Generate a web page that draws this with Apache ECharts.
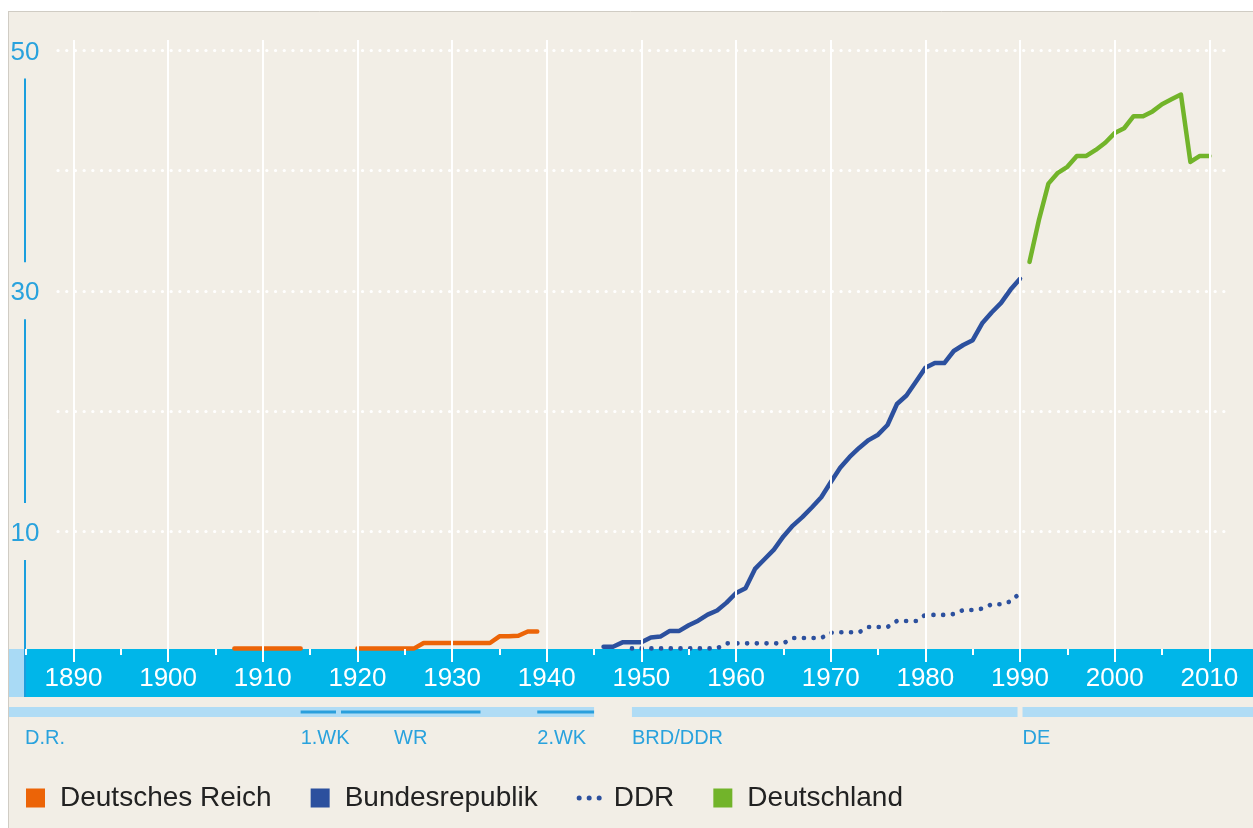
<!DOCTYPE html>
<html><head><meta charset="utf-8">
<script src="https://cdn.jsdelivr.net/npm/echarts@6/dist/echarts.min.js"></script>
<style>html,body{margin:0;padding:0;background:#fff}#c{width:1253px;height:828px}</style>
</head><body><div id="c"></div>
<script>
// ---------- DATA ----------
const reichYears  = [1907,1908,1909,1910,1911,1912,1913,1914,1915,1916,1917,1918,1919,1920,1921,1922,1923,1924,1925,1926,1927,1928,1929,1930,1931,1932,1933,1934,1935,1936,1937,1938,1939];
const reichValues = [0.3,0.3,0.3,0.3,0.3,0.3,0.3,0.3,null,null,null,null,null,0.3,0.3,0.3,0.3,0.3,0.3,0.3,0.75,0.75,0.75,0.75,0.75,0.75,0.75,0.75,1.3,1.3,1.35,1.7,1.7];

const brdYears  = [1946,1947,1948,1949,1950,1951,1952,1953,1954,1955,1956,1957,1958,1959,1960,1961,1962,1963,1964,1965,1966,1967,1968,1969,1970,1971,1972,1973,1974,1975,1976,1977,1978,1979,1980,1981,1982,1983,1984,1985,1986,1987,1988,1989,1990];
const brdValues = [0.44,0.44,0.8,0.8,0.8,1.2,1.28,1.75,1.75,2.22,2.6,3.1,3.45,4.1,4.9,5.3,6.9,7.7,8.5,9.6,10.5,11.2,12.0,12.85,14.1,15.3,16.2,16.95,17.6,18.05,18.85,20.6,21.3,22.45,23.6,24.0,24.0,25.0,25.5,25.9,27.3,28.2,29.0,30.1,31.0];

const ddrYears  = [1949,1950,1951,1952,1953,1954,1955,1956,1957,1958,1959,1960,1961,1962,1963,1964,1965,1966,1967,1968,1969,1970,1971,1972,1973,1974,1975,1976,1977,1978,1979,1980,1981,1982,1983,1984,1985,1986,1987,1988,1989,1990];
const ddrValues = [0.3,0.3,0.3,0.3,0.3,0.3,0.3,0.3,0.3,0.3,0.72,0.72,0.72,0.72,0.72,0.72,0.72,1.16,1.16,1.16,1.16,1.6,1.64,1.64,1.64,2.08,2.08,2.08,2.58,2.58,2.58,3.08,3.08,3.08,3.15,3.49,3.49,3.6,3.96,3.96,4.2,4.9];

const deYears  = [1991,1992,1993,1994,1995,1996,1997,1998,1999,2000,2001,2002,2003,2004,2005,2006,2007,2008,2009,2010];
const deValues = [32.4,35.9,38.9,39.8,40.3,41.2,41.2,41.7,42.3,43.1,43.5,44.5,44.5,44.9,45.5,45.9,46.3,40.7,41.2,41.2];

const seriesNames = ['Deutsches Reich','Bundesrepublik','DDR','Deutschland'];
const yTickLabels = [10, 30, 50];

const periodNames = ['D.R.', 'BRD/DDR', 'DE'];
const periodStart = [null, 1949, 1990];
const periodEnd   = [1945, 1990, null];
const eventNames  = ['1.WK', 'WR', '2.WK'];
const eventStart  = [1914, 1918, 1939];
const eventEnd    = [1918, 1933, 1945];

// ---------- LAYOUT / STYLE ----------
const W = 1253, H = 828;
const BG = '#f2eee6';
const FONT = '"Liberation Sans", Arial, Helvetica, sans-serif';
const LABEL_BLUE = '#29a2dd';
const BAND_CYAN = '#00b6e9';
const AXIS_X = 25;
const G0_LEFT = -21.2, G0_RIGHT_EDGE = 1304;   // grid for decade lines spans 1880..2020
const PX_PER_YEAR = (G0_RIGHT_EDGE - G0_LEFT) / 140;
const G1_LEFT = 58, G1_RIGHT_EDGE = 1228;
const X_MIN = 1880 + (G1_LEFT - G0_LEFT) / PX_PER_YEAR;
const X_MAX = 1880 + (G1_RIGHT_EDGE - G0_LEFT) / PX_PER_YEAR;
const BAND_TOP = 649, BAND_BOTTOM = 697;

const pairs = (xs, ys) => xs.map((x, i) => [x, ys[i] == null ? '-' : ys[i]]);

const chart = echarts.init(document.getElementById('c'), null, {renderer: 'canvas'});

const lineBase = {type: 'line', xAxisIndex: 1, yAxisIndex: 1, showSymbol: false, symbol: 'none', z: 4, connectNulls: false, animation: false};
const sq = 'path://M0,0h10v10h-10z';

const option = {
  animation: false,
  backgroundColor: BG,
  textStyle: {fontFamily: FONT},
  grid: [
    {left: G0_LEFT, right: W - G0_RIGHT_EDGE, top: 40, bottom: H - BAND_TOP, containLabel: false, outerBoundsMode: 'none'},
    {left: G1_LEFT, right: W - G1_RIGHT_EDGE, top: 50, bottom: 176, containLabel: false, outerBoundsMode: 'none'}
  ],
  xAxis: [
    {type: 'value', gridIndex: 0, min: 1880, max: 2020, interval: 10, z: 6,
     axisLine: {show: false},
     axisTick: {show: true, length: 13, lineStyle: {color: '#fff', width: 2}},
     minorTick: {show: true, splitNumber: 2, length: 6, lineStyle: {color: '#fff', width: 2}},
     splitLine: {show: true, lineStyle: {color: '#fff', width: 2}},
     axisLabel: {color: '#fff', fontSize: 26, margin: 17, fontFamily: FONT, formatter: v => String(v)}},
    {type: 'value', gridIndex: 1, min: X_MIN, max: X_MAX, show: false, splitLine: {show: false}}
  ],
  yAxis: [
    {type: 'value', gridIndex: 0, show: false, min: 0, max: 1, splitLine: {show: false}},
    {type: 'value', gridIndex: 1, min: 0, max: 50, interval: 10, offset: G1_LEFT - AXIS_X,
     axisLine: {show: true, lineStyle: {color: '#1b9fde', width: 2}},
     axisTick: {show: false},
     splitLine: {show: true, lineStyle: {color: '#ffffff', width: 3.2, type: [0.1, 8.6], cap: 'round'}},
     axisLabel: {margin: 0, align: 'center',
       formatter: v => yTickLabels.includes(v) ? '{a|' + v + '}' : '',
       rich: {a: {fontSize: 26, color: LABEL_BLUE, fontFamily: FONT, backgroundColor: BG, padding: [18, 3, 13, 3]}}}}
  ],
  legend: {
    left: 26, top: 784, padding: 0, itemWidth: 25, itemHeight: 19, itemGap: 39, symbolKeepAspect: true,
    textStyle: {fontSize: 28, color: '#222', fontFamily: FONT, padding: [0, 0, 0, 7]},
    selectedMode: false,
    data: [
      {name: seriesNames[0], icon: sq},
      {name: seriesNames[1], icon: sq},
      {name: seriesNames[2], icon: 'path://M0,2.5a2.5,2.5 0 1,0 5,0a2.5,2.5 0 1,0 -5,0M10,2.5a2.5,2.5 0 1,0 5,0a2.5,2.5 0 1,0 -5,0M20,2.5a2.5,2.5 0 1,0 5,0a2.5,2.5 0 1,0 -5,0'},
      {name: seriesNames[3], icon: sq}
    ]
  },
  series: [
    Object.assign({}, lineBase, {name: seriesNames[0], data: pairs(reichYears, reichValues), color: '#ec6407',
      lineStyle: {color: '#ec6407', width: 4.5, cap: 'round', join: 'round'}}),
    Object.assign({}, lineBase, {name: seriesNames[1], data: pairs(brdYears, brdValues), color: '#2c509e',
      lineStyle: {color: '#2c509e', width: 4.5, cap: 'round', join: 'round'}}),
    Object.assign({}, lineBase, {name: seriesNames[2], data: pairs(ddrYears, ddrValues), color: '#2c509e',
      lineStyle: {color: '#2c509e', width: 4.6, type: [0.1, 9.6], cap: 'round', join: 'round'}}),
    Object.assign({}, lineBase, {name: seriesNames[3], data: pairs(deYears, deValues), color: '#72b42a',
      lineStyle: {color: '#72b42a', width: 4.5, cap: 'round', join: 'round'}})
  ]
};
chart.setOption(option);

// ---------- decorations (frame, axis band, period bars) ----------
const px = yr => chart.convertToPixel({xAxisIndex: 1}, yr);
const gfx = [];
// axis band
gfx.push({type: 'rect', z: 3, silent: true, shape: {x: 8, y: BAND_TOP, width: AXIS_X - 8, height: BAND_BOTTOM - BAND_TOP}, style: {fill: '#a9daf5'}});
gfx.push({type: 'rect', z: 3, silent: true, shape: {x: AXIS_X, y: BAND_TOP, width: W - AXIS_X, height: BAND_BOTTOM - BAND_TOP}, style: {fill: BAND_CYAN}});
gfx.push({type: 'line', z: 3, silent: true, shape: {x1: AXIS_X, y1: BAND_TOP - 4, x2: AXIS_X, y2: BAND_BOTTOM}, style: {stroke: '#1b9fde', lineWidth: 2}});
// period bars
const PB_TOP = 707, PB_H = 10, LABEL_Y = 738;
periodNames.forEach((name, i) => {
  const x0 = periodStart[i] == null ? 8 : px(periodStart[i]) + (i > 0 && periodEnd[i - 1] === periodStart[i] ? 2.5 : 0);
  const x1 = periodEnd[i] == null ? W : px(periodEnd[i]) - (periodStart[i + 1] === periodEnd[i] ? 2.5 : 0);
  gfx.push({type: 'rect', z: 3, silent: true, shape: {x: x0, y: PB_TOP, width: x1 - x0, height: PB_H}, style: {fill: '#b0dcf5'}});
  gfx.push({type: 'text', z: 3, silent: true, x: Math.max(x0, AXIS_X), y: LABEL_Y,
    style: {text: name, fill: LABEL_BLUE, font: '20px ' + FONT, textAlign: 'left', textVerticalAlign: 'middle'}});
});
eventNames.forEach((name, i) => {
  const adjPrev = i > 0 && eventEnd[i - 1] === eventStart[i];
  const adjNext = i < eventNames.length - 1 && eventStart[i + 1] === eventEnd[i];
  const x0 = px(eventStart[i]) + (adjPrev ? 2.5 : 0);
  const x1 = px(eventEnd[i]) - (adjNext ? 2.5 : 0);
  gfx.push({type: 'rect', z: 4, silent: true, shape: {x: x0, y: PB_TOP + 3.5, width: x1 - x0, height: 3}, style: {fill: '#2a9fdc'}});
  const centered = (x1 - x0) > 100;
  gfx.push({type: 'text', z: 3, silent: true, x: centered ? (x0 + x1) / 2 : x0, y: LABEL_Y,
    style: {text: name, fill: LABEL_BLUE, font: '20px ' + FONT, textAlign: centered ? 'center' : 'left', textVerticalAlign: 'middle'}});
});
// outer white margin + frame line
gfx.push({type: 'rect', z: 10, silent: true, shape: {x: 0, y: 0, width: W, height: 11}, style: {fill: '#fff'}});
gfx.push({type: 'rect', z: 10, silent: true, shape: {x: 0, y: 0, width: 8, height: H}, style: {fill: '#fff'}});
gfx.push({type: 'line', z: 10, silent: true, shape: {x1: 8, y1: 11.5, x2: W, y2: 11.5}, style: {stroke: '#d0ccc4', lineWidth: 1}});
gfx.push({type: 'line', z: 10, silent: true, shape: {x1: 8.5, y1: 11, x2: 8.5, y2: H}, style: {stroke: '#d0ccc4', lineWidth: 1}});

chart.setOption({graphic: {elements: gfx}});
</script></body></html>
